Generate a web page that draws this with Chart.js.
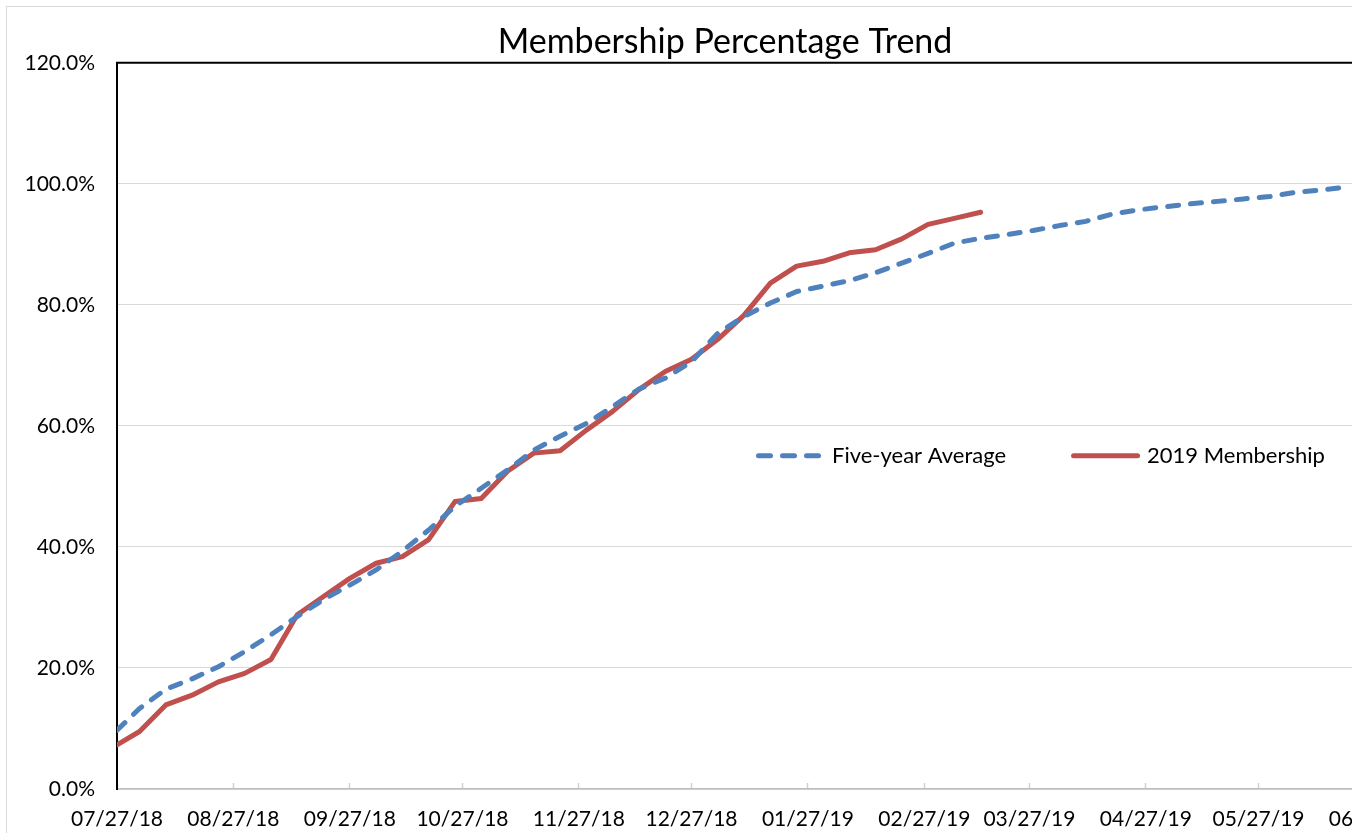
<!DOCTYPE html>
<html>
<head>
<meta charset="utf-8">
<title>Membership Percentage Trend</title>
<script src="https://cdn.jsdelivr.net/npm/chart.js@4.4.1/dist/chart.umd.min.js"></script>
<style>
  html, body { margin: 0; padding: 0; background: #fff; }
  #wrap { position: relative; width: 1352px; height: 833px; overflow: hidden; }
  #frame { position: absolute; left: 6px; top: 6px; width: 1500px; height: 900px; border: 1px solid #d9d9d9; }
  #membershipChart { position: absolute; left: 0; top: 0; }
</style>
</head>
<body>
<div id="wrap">
  <div id="frame"></div>
  <canvas id="membershipChart" width="1450" height="850"></canvas>
</div>
<script>
// days after 07/27/18 for each weekly reading
const weekDays = [0, 6, 13, 20, 27, 34, 41, 48, 55, 62, 69, 76, 83, 90, 97, 104,
    111, 118, 125, 132, 139, 146, 153, 160, 167, 174, 181, 188, 195, 202, 209, 216,
    223, 230, 237, 244, 251, 258, 265, 272, 279, 286, 293, 300, 307, 314, 321, 328];

// percent of members
const fiveYearAverage = [9.7, 13.3, 16.5, 18.2, 20.2, 22.7, 25.5, 28.5, 31.3, 33.7, 36.2, 39.3,
    42.8, 46.7, 49.7, 52.7, 56.0, 58.3, 60.4, 63.2, 66.1, 67.9, 70.6, 75.3,
    78.1, 80.3, 82.2, 83.1, 84.0, 85.3, 86.9, 88.5, 90.2, 91.0, 91.6, 92.3,
    93.1, 93.8, 95.0, 95.7, 96.2, 96.7, 97.1, 97.5, 97.9, 98.6, 99.0, 99.5];

// 2019 only runs to mid March
const membership2019 = [7.3, 9.5, 13.9, 15.5, 17.7, 19.1, 21.4, 28.8, 31.8, 34.8, 37.3, 38.4,
    41.2, 47.5, 48.0, 52.5, 55.5, 55.9, 59.3, 62.4, 66.0, 69.0, 71.0, 74.3,
    78.3, 83.6, 86.4, 87.2, 88.6, 89.1, 90.9, 93.3, 94.3, 95.3];

const tickDays = [0, 31, 62, 92, 123, 153, 184, 215, 243, 274, 304, 335];
const tickLabels = ['07/27/18', '08/27/18', '09/27/18', '10/27/18', '11/27/18', '12/27/18',
    '01/27/19', '02/27/19', '03/27/19', '04/27/19', '05/27/19', '06/27/19'];

const toPoints = (vals) => vals.map((v, i) => ({ x: weekDays[i], y: v }));

// black frame line along the top of the plot
const topBorder = {
    id: 'topBorder',
    afterDatasetsDraw(chart) {
        const { ctx, chartArea } = chart;
        ctx.save();
        ctx.strokeStyle = '#000';
        ctx.lineWidth = 2;
        ctx.beginPath();
        ctx.moveTo(chartArea.left - 1, chartArea.top);
        ctx.lineTo(chartArea.right, chartArea.top);
        ctx.stroke();
        ctx.restore();
    }
};

// legend sits inside the plot area
const innerLegend = {
    id: 'innerLegend',
    afterDraw(chart) {
        const { ctx, chartArea } = chart;
        let x = chartArea.left + 639;
        const y = chartArea.top + 393;
        ctx.save();
        ctx.font = '22px Lato';
        ctx.textBaseline = 'middle';
        chart.data.datasets.forEach((ds) => {
            ctx.beginPath();
            ctx.lineWidth = 5;
            ctx.lineCap = 'round';
            ctx.strokeStyle = ds.borderColor;
            ctx.setLineDash(ds.borderDash.length ? [12, 12] : []);
            ctx.moveTo(x + 2.5, y);
            ctx.lineTo(x + (ds.borderDash.length ? 62.5 : 66.5), y);
            ctx.stroke();
            ctx.setLineDash([]);
            ctx.fillStyle = '#000';
            ctx.fillText(ds.label, x + 76, y);
            x += 76 + ctx.measureText(ds.label).width + 65;
        });
        ctx.restore();
    }
};

Chart.defaults.font.family = 'Lato';

new Chart(document.getElementById('membershipChart'), {
    type: 'line',
    data: {
        datasets: [{
            label: 'Five-year Average',
            data: toPoints(fiveYearAverage),
            borderColor: '#4F81BD',
            borderWidth: 5,
            borderDash: [11, 12],
            borderCapStyle: 'round',
            borderJoinStyle: 'round',
            pointRadius: 0,
            tension: 0
        }, {
            label: '2019 Membership',
            data: toPoints(membership2019),
            borderColor: '#C0504D',
            borderWidth: 5,
            borderDash: [],
            borderCapStyle: 'round',
            borderJoinStyle: 'round',
            pointRadius: 0,
            tension: 0
        }]
    },
    options: {
        responsive: false,
        animation: false,
        layout: { padding: 0 },
        plugins: {
            legend: { display: false },
            tooltip: { enabled: false },
            title: {
                display: true,
                text: 'Membership Percentage Trend',
                color: '#000',
                font: { size: 34, weight: 'normal' },
                padding: { top: 22, bottom: 0 }
            }
        },
        scales: {
            x: {
                type: 'linear',
                min: 0,
                max: 355,   // plot runs on past the visible crop
                afterBuildTicks: (scale) => { scale.ticks = tickDays.map(v => ({ value: v })); },
                afterFit: (scale) => { scale.height = 61; },
                ticks: {
                    autoSkip: false,
                    maxRotation: 0,
                    padding: 24,
                    color: '#000',
                    font: { size: 21 },
                    callback: (v) => tickLabels[tickDays.indexOf(v)]
                },
                grid: { drawOnChartArea: false, tickLength: -6, tickColor: '#d0d0d0', tickWidth: 1.5 },
                border: { color: '#bfbfbf', width: 1.5 }
            },
            y: {
                min: 0,
                max: 120,
                afterFit: (scale) => { scale.width = 117; },
                ticks: {
                    stepSize: 20,
                    padding: 22,
                    color: '#000',
                    font: { size: 21 },
                    callback: (v) => v.toFixed(1) + '%'
                },
                grid: { color: '#d9d9d9', drawTicks: false },
                border: { color: '#000', width: 2 }
            }
        }
    },
    plugins: [topBorder, innerLegend]
});
</script>
</body>
</html>
